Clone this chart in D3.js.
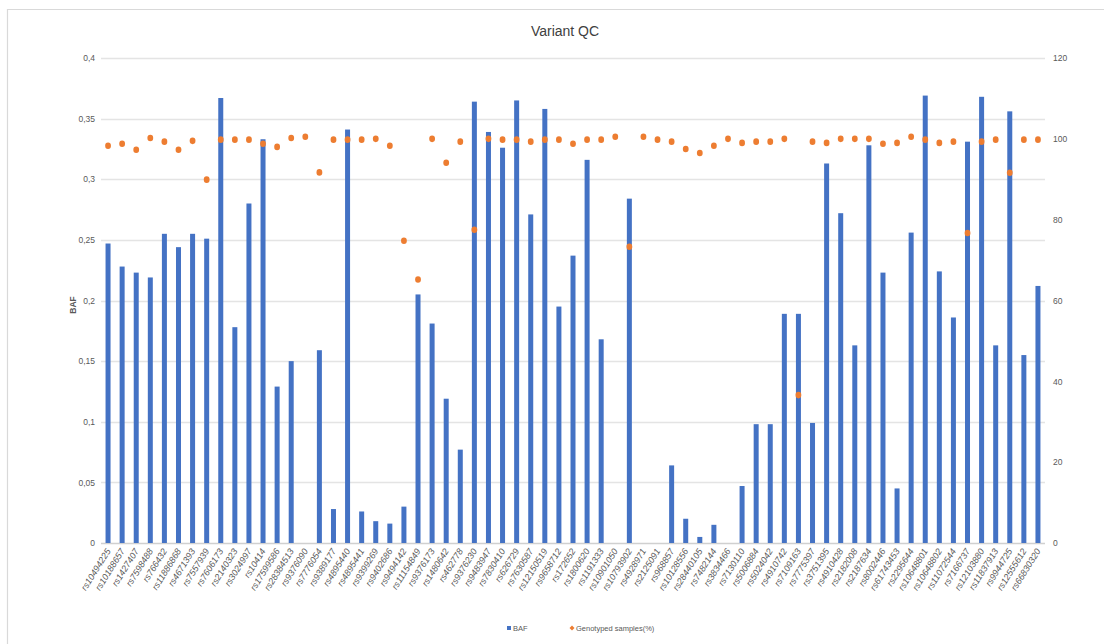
<!DOCTYPE html>
<html><head><meta charset="utf-8">
<script src="https://cdn.jsdelivr.net/npm/d3@7"></script>
<style>
html,body{margin:0;padding:0;background:#fff;}
svg{display:block;font-family:"Liberation Sans Narrow","Liberation Sans",Arial,sans-serif;}
</style></head>
<body><svg id="c" width="1104" height="644"></svg>
<script>
const categories = ["rs10494225","rs10188657","rs1427407","rs7598488","rs766432","rs11886868","rs4671393","rs7557939","rs7606173","rs2140323",
"rs3024997","rs10414","rs17599586","rs28384513","rs9376090","rs7776054","rs9389177","rs4895440","rs4895441","rs9399269",
"rs9402686","rs9494142","rs11154849","rs9376173","rs1480642","rs462778","rs9376230","rs9483947","rs7830410","rs626729",
"rs7630587","rs12150519","rs9658712","rs172652","rs1800620","rs1191333","rs10901050","rs10793902","rs4928971","rs2125091",
"rs968857","rs10128556","rs28440105","rs7482144","rs3834466","rs7130110","rs5006884","rs5024042","rs4910742","rs7109163",
"rs7775397","rs3751395","rs4910428","rs2182008","rs2187634","rs8002446","rs61743453","rs2295644","rs10648801","rs10648802",
"rs11072544","rs7166737","rs12103880","rs11837913","rs9944725","rs12555612","rs66830320"];
const baf = [0.247,0.228,0.223,0.219,0.255,0.244,0.255,0.251,0.367,0.178,
0.280,0.333,0.129,0.150,0,0.159,0.028,0.341,0.026,0.018,
0.016,0.030,0.205,0.181,0.119,0.077,0.364,0.339,0.326,0.365,
0.271,0.358,0.195,0.237,0.316,0.168,0,0.284,0,0,
0.064,0.020,0.005,0.015,0,0.047,0.098,0.098,0.189,0.189,
0.099,0.313,0.272,0.163,0.328,0.223,0.045,0.256,0.369,0.224,
0.186,0.331,0.368,0.163,0.356,0.155,0.212];
const genotyped = [98.3,98.8,97.3,100.2,99.3,97.3,99.5,89.9,99.8,99.8,
99.8,98.8,98.0,100.2,100.5,91.7,99.8,99.8,99.8,100.0,
98.3,74.8,65.2,100.0,94.1,99.3,77.5,100.0,99.8,99.8,
99.3,99.8,99.8,98.8,99.8,99.8,100.5,73.3,100.5,99.8,
99.3,97.5,96.5,98.3,100.0,99.0,99.3,99.3,100.0,36.6,
99.3,99.0,100.0,100.0,100.0,98.8,99.0,100.5,99.8,99.0,
99.3,76.7,99.3,99.8,91.6,99.8,99.8];
const leftTicks = [0,0.05,0.1,0.15,0.2,0.25,0.3,0.35,0.4];
const rightTicks = [0,20,40,60,80,100,120];

const svg = d3.select("#c");
const L = 101, R = 1045, T = 58, B = 543;
const x = d3.scaleBand().domain(categories).range([L, R]);
const yL = d3.scaleLinear().domain([0, 0.4]).range([B, T]);
const yR = d3.scaleLinear().domain([0, 120]).range([B, T]);

// outer border
svg.append("path").attr("d","M7.5,644V9.5H1104").attr("fill","none").attr("stroke","#d9d9d9").attr("stroke-width",1.2);

// title
svg.append("text").attr("x",565).attr("y",36).attr("text-anchor","middle")
  .attr("font-size",14).attr("fill","#404040").text("Variant QC");

// gridlines
svg.append("g").selectAll("line").data(leftTicks).join("line")
  .attr("x1",L).attr("x2",R).attr("y1",d=>Math.round(yL(d))+0.5).attr("y2",d=>Math.round(yL(d))+0.5)
  .attr("stroke", d=> d===0 ? "#d0d0d0" : "#e4e4e4").attr("stroke-width",1.5);

// left axis
const fmt = d => String(d).replace(".", ",");
const gl = svg.append("g").attr("transform",`translate(${L-6},0)`)
  .call(d3.axisLeft(yL).tickValues(leftTicks).tickFormat(fmt).tickSize(0).tickPadding(0));
gl.select(".domain").remove();
gl.selectAll("text").attr("font-size",8.5).attr("fill","#595959");

const gr = svg.append("g").attr("transform",`translate(${R+8},0)`)
  .call(d3.axisRight(yR).tickValues(rightTicks).tickSize(0).tickPadding(0));
gr.select(".domain").remove();
gr.selectAll("text").attr("font-size",8.5).attr("fill","#595959");

// y label
svg.append("text").attr("transform","translate(76,305) rotate(-90)").attr("text-anchor","middle")
  .attr("font-size",8.5).attr("font-weight","bold").attr("fill","#595959").text("BAF");

// bars
const bw = 5;
svg.append("g").selectAll("rect").data(categories.map((c,i)=>({c,v:baf[i]})).filter(d=>d.v>0)).join("rect")
  .attr("x",d=>x(d.c)+x.bandwidth()/2-bw/2).attr("width",bw)
  .attr("y",d=>yL(d.v)).attr("height",d=>B-yL(d.v)).attr("fill","#4472C4");

// dots
svg.append("g").selectAll("ellipse").data(categories.map((c,i)=>({c,v:genotyped[i]}))).join("ellipse")
  .attr("cx",d=>x(d.c)+x.bandwidth()/2).attr("cy",d=>yR(d.v)).attr("rx",2.9).attr("ry",3.3)
  .attr("fill","#ED7D31");

// x labels
const gx = svg.append("g").attr("transform",`translate(0,${B})`)
  .call(d3.axisBottom(x).tickSize(0).tickPadding(0));
gx.select(".domain").remove();
gx.selectAll("text").attr("font-size",9).attr("fill","#595959").attr("font-style","italic")
  .attr("text-anchor","end").attr("dy",0)
  .attr("transform","translate(3,8) rotate(-58)");

// legend
const lg = svg.append("g");
lg.append("rect").attr("x",507).attr("y",626).attr("width",4).attr("height",4).attr("fill","#4472C4");
lg.append("text").attr("x",513).attr("y",631).attr("font-size",7.5).attr("fill","#595959").text("BAF");
lg.append("path").attr("d","M572,625.5L574.5,628L572,630.5L569.5,628Z").attr("fill","#ED7D31");
lg.append("text").attr("x",576).attr("y",631).attr("font-size",7.5).attr("fill","#595959").text("Genotyped samples(%)");
</script></body></html>
